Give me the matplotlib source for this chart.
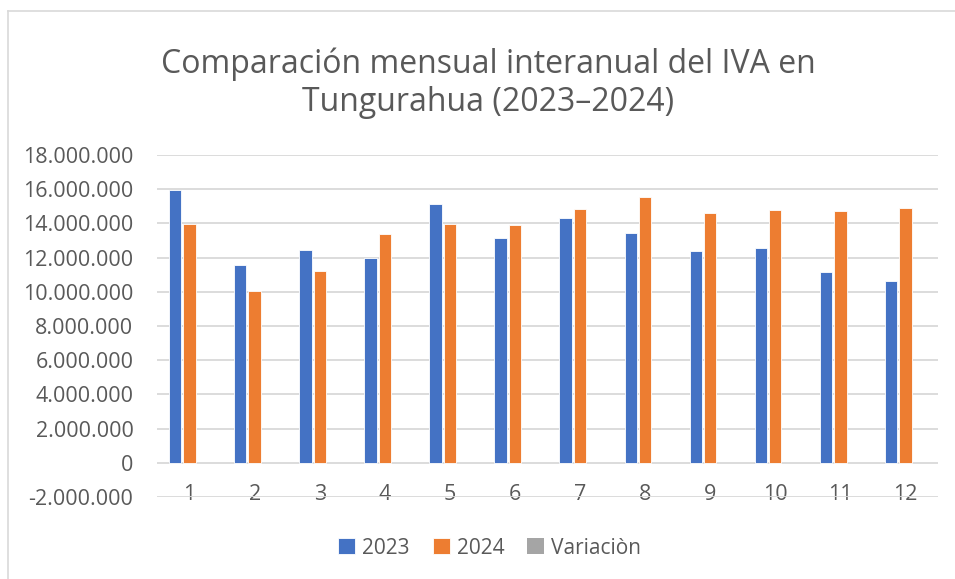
import numpy as np
import matplotlib
matplotlib.use("Agg")
import matplotlib.pyplot as plt
from matplotlib.lines import Line2D
from matplotlib.ticker import FuncFormatter

# data (USD)
months = ["1", "2", "3", "4", "5", "6", "7", "8", "9", "10", "11", "12"]
iva_2023 = [15980000, 11550000, 12460000, 12000000, 15120000, 13130000,
            14300000, 13420000, 12390000, 12580000, 11160000, 10610000]
iva_2024 = [13990000, 10020000, 11220000, 13400000, 13990000, 13910000,
            14840000, 15560000, 14590000, 14770000, 14710000, 14900000]
variacion = [-0.12, -0.13, -0.10, 0.12, -0.07, 0.06,
             0.04, 0.16, 0.18, 0.17, 0.32, 0.40]

series_names = ["2023", "2024", "Variaciòn"]
colors = ["#4472C4", "#ED7D31", "#A5A5A5"]
txt_color = "#595959"
grid_color = "#D9D9D9"

plt.rcParams['font.family'] = ['Open Sans', 'DejaVu Sans']

fig = plt.figure(figsize=(9.55, 5.79), dpi=100)
ax = fig.add_axes([0.1644, 0.1416, 0.8178, 0.5907])

x = np.arange(len(months))
step = 0.221
w = 0.19
ax.bar(x - step, iva_2023, w, color=colors[0], edgecolor="white", linewidth=0.6, label=series_names[0], zorder=3)
ax.bar(x, iva_2024, w, color=colors[1], edgecolor="white", linewidth=0.6, label=series_names[1], zorder=3)
ax.bar(x + step, variacion, w, color=colors[2], linewidth=0, label=series_names[2], zorder=3)

ax.set_xlim(-0.5, len(months) - 0.5)
ax.set_ylim(-2000000, 18000000)
ax.set_yticks(np.arange(-2000000, 18000001, 2000000))
ax.yaxis.set_major_formatter(FuncFormatter(lambda v, p: f"{int(v):,}".replace(",", ".")))
ax.set_xticks(x)
ax.set_xticklabels(months)

ax.grid(axis="y", color=grid_color, linewidth=1.3, zorder=0)
ax.set_axisbelow(True)
for s in ax.spines.values():
    s.set_visible(False)
ax.tick_params(axis="y", length=0, pad=17, labelsize=15.5, labelcolor=txt_color)
ax.tick_params(axis="x", length=0, pad=-9.5, labelsize=15.5, labelcolor=txt_color)

fig.text(0.511, 0.857, "Comparación mensual interanual del IVA en\nTungurahua (2023–2024)",
         ha="center", va="center", fontsize=23, color=txt_color, linespacing=1.2)

fig.legend(loc="center", bbox_to_anchor=(0.513, 0.0535), ncol=3, frameon=False,
           fontsize=15, labelcolor=txt_color, handlelength=0.8, handleheight=0.8,
           handletextpad=0.35, columnspacing=1.1)

# chart frame (left and top edges visible in the crop)
fig.add_artist(Line2D([0.0084, 0.0084], [0.0, 0.981], transform=fig.transFigure, color=grid_color, lw=1.2))
fig.add_artist(Line2D([0.0084, 1.0], [0.981, 0.981], transform=fig.transFigure, color=grid_color, lw=1.2))

plt.savefig("out.png", dpi=100)
